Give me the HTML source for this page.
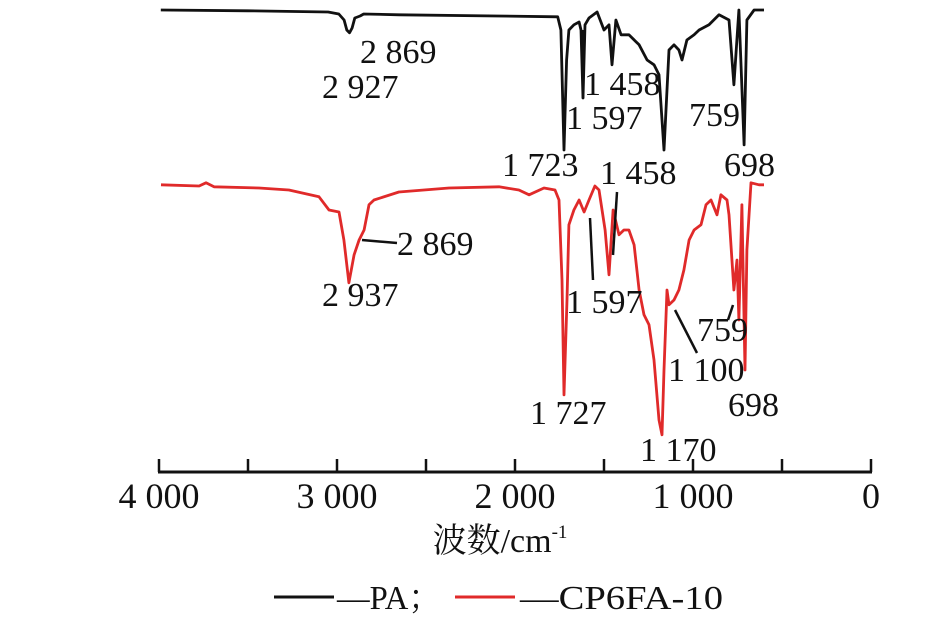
<!DOCTYPE html>
<html><head><meta charset="utf-8"><style>
html,body{margin:0;padding:0;background:#fff;}
svg{display:block;}
text{font-family:"Liberation Serif","Noto Serif CJK SC",serif;fill:#111;}
</style></head><body>
<svg id="chart" width="940" height="634" viewBox="0 0 940 634">
<g id="plot"></g>
<g id="labels" font-size="34">
<text x="360" y="63">2 869</text>
<text x="322" y="98">2 927</text>
<text x="584" y="95">1 458</text>
<text x="566" y="129">1 597</text>
<text x="502" y="176">1 723</text>
<text x="600" y="184">1 458</text>
<text x="689" y="126">759</text>
<text x="724" y="176">698</text>
<text x="397" y="255">2 869</text>
<text x="322" y="306">2 937</text>
<text x="566" y="313">1 597</text>
<text x="697" y="341">759</text>
<text x="668" y="381">1 100</text>
<text x="530" y="424">1 727</text>
<text x="728" y="416">698</text>
<text x="640" y="461">1 170</text>
</g>
<g stroke="#111" stroke-width="2.5">
<line x1="362" y1="240" x2="397" y2="243"/>
<line x1="590" y1="218" x2="593" y2="280"/>
<line x1="617" y1="192" x2="613" y2="255"/>
<line x1="733" y1="305" x2="728" y2="320"/>
<line x1="675" y1="310" x2="697" y2="353"/>
<line x1="583" y1="30" x2="583" y2="98"/>
</g>
<g id="axis"></g>
<text x="500" y="552" font-size="34" text-anchor="middle">波数/cm<tspan font-size="19" dy="-14">-1</tspan></text>
<g>
<line x1="274" y1="597" x2="334" y2="597" stroke="#111" stroke-width="3"/>
<text x="337" y="609" font-size="34" textLength="104" lengthAdjust="spacingAndGlyphs">—PA；</text>
<line x1="455" y1="597" x2="515" y2="597" stroke="#e02a2a" stroke-width="3"/>
<text x="520" y="609" font-size="34" textLength="203" lengthAdjust="spacingAndGlyphs">—CP6FA-10</text>
</g>
</svg>
<script>
const paWavenumbers=[3990,3500,3050,2990,2960,2945,2930,2915,2900,2870,2850,2650,2100,1760,1742,1725,1710,1697,1669,1640,1629,1618,1607,1584,1539,1500,1472,1455,1433,1404,1360,1303,1258,1219,1191,1163,1135,1107,1079,1062,1034,994,966,910,854,798,770,742,713,697,657,601];
const paTransmittance=[115,114.8,114.5,114,112.5,110,109.3,110.5,113,113.5,114,113.8,113.5,113.3,110,80,102.5,110,111.3,112,110,93,111.3,113,114.5,110,111.3,101.3,112.5,108.8,108.8,106.3,102.5,101.3,98.8,80,105,106.3,105,102.5,107.5,108.8,110,111.3,113.8,112.5,96.3,115,81.3,112.5,115,115];
const cpWavenumbers=[3989,3775,3736,3691,3438,3270,3101,3045,2989,2961,2933,2904,2876,2848,2820,2792,2652,2371,2090,1978,1921,1837,1775,1753,1736,1725,1708,1697,1669,1640,1612,1584,1551,1528,1494,1472,1449,1416,1388,1360,1331,1303,1275,1247,1219,1191,1174,1163,1146,1135,1107,1079,1051,1022,994,955,927,899,865,843,809,798,770,753,742,725,708,697,674,629,601];
const cpTransmittance=[71.3,71,71.8,70.8,70.5,70,68.3,65,64.5,57.5,46.8,53.8,57.5,60,66.3,67.5,69.5,70.5,70.8,70,68.8,70.5,70,67.5,47.5,18.8,42.5,61.3,65,67.5,64.5,67.5,71,70,60,48.8,65,58.8,60,60,56.3,45,38.8,36.3,27.5,12.5,8.8,25,45,41.3,42.5,45,50,57.5,60,61.3,66.3,67.5,63.8,68.8,67.5,63.8,45,52.5,37.5,66.3,25,55,71.8,71.3,71.3];
const xTicks=[4000,3500,3000,2500,2000,1500,1000,500,0];
const xTickLabels=["4 000","","3 000","","2 000","","1 000","","0"];

const NS="http://www.w3.org/2000/svg";
function xScale(w){return 159+(4000-w)*0.178;}
function yScale(t){return 470-4*t;}
const plot=document.getElementById('plot');
function drawSeries(ws,ts,color,name){
  const p=document.createElementNS(NS,'path');
  let d='';
  ws.forEach((w,i)=>{d+=(i?'L':'M')+xScale(w).toFixed(1)+','+yScale(ts[i]).toFixed(1);});
  p.setAttribute('d',d);
  p.setAttribute('fill','none');
  p.setAttribute('stroke',color);
  p.setAttribute('stroke-width','2.8');
  p.setAttribute('stroke-linejoin','round');
  
  
  plot.appendChild(p);
}
drawSeries(paWavenumbers,paTransmittance,'#111','pa-spectrum-line');
drawSeries(cpWavenumbers,cpTransmittance,'#e02a2a','cp6fa-10-spectrum-line');

const axis=document.getElementById('axis');
const al=document.createElementNS(NS,'line');
al.setAttribute('x1',xScale(4000)-1);al.setAttribute('x2',xScale(0)+1);
al.setAttribute('y1',472);al.setAttribute('y2',472);
al.setAttribute('stroke','#111');al.setAttribute('stroke-width','3');


axis.appendChild(al);
xTicks.forEach((w,i)=>{
  const t=document.createElementNS(NS,'line');
  t.setAttribute('x1',xScale(w));t.setAttribute('x2',xScale(w));
  t.setAttribute('y1',459);t.setAttribute('y2',472);
  t.setAttribute('stroke','#111');t.setAttribute('stroke-width','2.5');
  
  
  axis.appendChild(t);
  if(xTickLabels[i]){
    const tx=document.createElementNS(NS,'text');
    tx.setAttribute('x',xScale(w));tx.setAttribute('y',508);
    tx.setAttribute('font-size','36');tx.setAttribute('text-anchor','middle');
    tx.textContent=xTickLabels[i];
    
    
    axis.appendChild(tx);
  }
});
</script>
</body></html>
